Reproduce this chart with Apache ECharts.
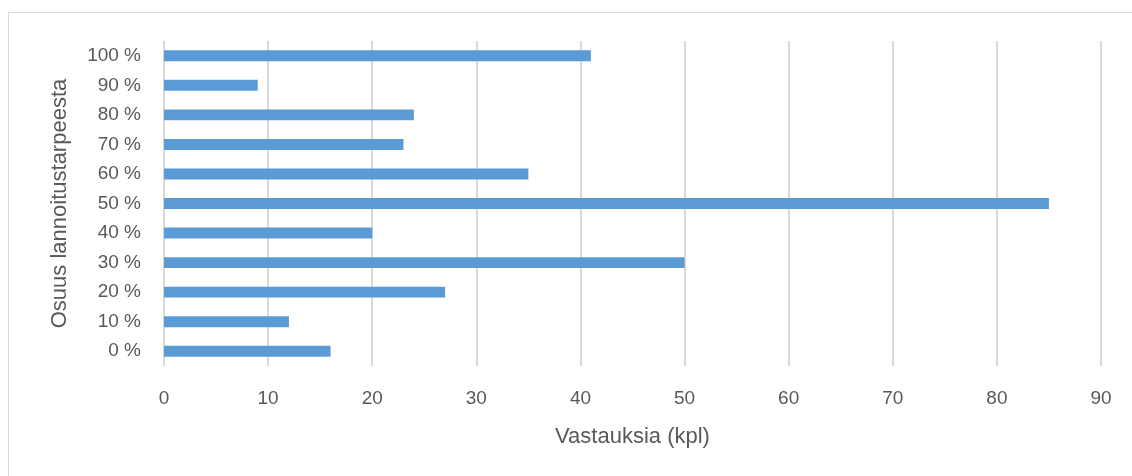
<!DOCTYPE html>
<html>
<head>
<meta charset="utf-8">
<script src="https://cdn.jsdelivr.net/npm/echarts@6/dist/echarts.min.js"></script>
<style>
  html, body { margin: 0; padding: 0; background: #fff; }
  #frame {
    position: absolute; left: 8px; top: 12px; width: 1140px; height: 480px;
    border: 1px solid #d9d9d9; box-sizing: border-box;
  }
  #chart { position: absolute; left: 0; top: 0; width: 1132px; height: 476px; }
</style>
</head>
<body>
<div id="frame"></div>
<div id="chart"></div>
<script>
const categories = ['0 %', '10 %', '20 %', '30 %', '40 %', '50 %', '60 %', '70 %', '80 %', '90 %', '100 %']
const answers = [16, 12, 27, 50, 20, 85, 35, 23, 24, 9, 41]
const xTicks = [0, 10, 20, 30, 40, 50, 60, 70, 80, 90]

const fontFamily = "'Liberation Sans', sans-serif"
const textColor = '#595959'

const chart = echarts.init(document.getElementById('chart'), null, { renderer: 'canvas' })
chart.setOption({
  animation: false,
  textStyle: { fontFamily },
  grid: { left: 164, right: 31, top: 41, bottom: 110, containLabel: false },
  xAxis: {
    type: 'value',
    min: xTicks[0],
    max: xTicks[xTicks.length - 1],
    interval: 10,
    name: 'Vastauksia (kpl)',
    nameLocation: 'middle',
    nameGap: 60,
    nameTextStyle: { fontSize: 22, color: textColor, fontFamily },
    axisLine: { show: false },
    axisTick: { show: false },
    axisLabel: { fontSize: 19, color: textColor, margin: 23, fontFamily },
    splitLine: { show: true, lineStyle: { color: '#d9d9d9', width: 2 } }
  },
  yAxis: {
    type: 'category',
    data: categories,
    name: 'Osuus lannoitustarpeesta',
    nameLocation: 'middle',
    nameGap: 93,
    nameRotate: 90,
    nameTextStyle: { fontSize: 22, color: textColor, fontFamily },
    axisLine: { show: false },
    axisTick: { show: false },
    axisLabel: { fontSize: 19, color: textColor, margin: 23, fontFamily },
    splitLine: { show: false }
  },
  series: [{
    type: 'bar',
    data: answers,
    barWidth: '37%',
    itemStyle: { color: '#5b9bd5' }
  }]
})
</script>
</body>
</html>
